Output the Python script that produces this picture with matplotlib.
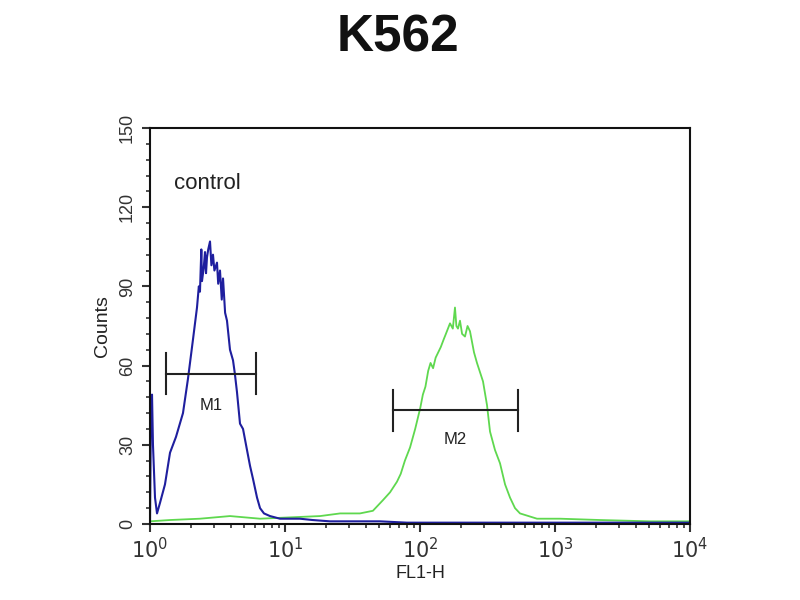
import math
import matplotlib
matplotlib.use("Agg")
import matplotlib.pyplot as plt
from matplotlib.ticker import LogLocator, MultipleLocator, NullFormatter

plt.rcParams['font.family'] = ['Liberation Sans', 'DejaVu Sans']

title = "K562"
xlabel = "FL1-H"
ylabel = "Counts"
label_text = "control"

# Control histogram (blue)
blue_x = [1.0, 1.017, 1.035, 1.052, 1.089, 1.127, 1.186, 1.291, 1.407, 1.558, 1.755,
          1.911, 2.083, 2.229, 2.30, 2.345, 2.40, 2.427, 2.50, 2.555, 2.60, 2.643, 2.70,
          2.783, 2.85, 2.928, 3.0, 3.135, 3.20, 3.300, 3.40, 3.475, 3.60, 3.718, 3.913,
          4.120, 4.25, 4.408, 4.642, 4.887, 5.231, 5.508, 5.798, 6.205, 6.532, 6.988,
          7.743, 9.18, 12.9, 16.0, 21.5, 30.0, 50.6, 80.0, 167, 400, 918, 3000, 10000]
blue_y = [0, 45, 49, 30, 10, 4, 8, 15, 27, 33, 42,
          55, 70, 82, 90, 88, 104, 92, 97, 103, 95, 101, 104,
          107, 98, 102, 96, 99, 91, 96, 85, 93, 80, 77, 66,
          62, 57, 50, 38, 36, 28, 22, 17, 10, 6, 4,
          3, 2, 2, 1.5, 1, 1, 1, 0.5, 0.5, 0.5, 0.5, 0.5, 0.5]

# Stained histogram (green)
green_x = [1.0, 1.407, 2.345, 3.913, 6.532, 10.9, 18.2, 25.6, 35.9, 44.8, 53.1, 60.0,
           67.5, 72.0, 77.3, 84.4, 92.1, 100.5, 105.0, 109.7, 115.0, 119.7, 125.0, 130.6,
           142.5, 150.0, 155.5, 166.8, 175.0, 181.6, 186.0, 191.1, 197.8, 205.0, 215.4,
           225.0, 234.6, 251.2, 264.3, 292.9, 313.6, 330.1, 359.4, 391.4, 426.6, 464.2,
           505.6, 550.6, 735.6, 1089, 2154, 5058, 10000]
green_y = [1, 1.5, 2, 3, 2, 2.5, 3, 4, 4, 5, 9, 12,
           16, 19, 24, 29, 36, 44, 49, 52, 58, 61, 59, 63,
           67, 70, 72, 76, 74, 82, 75, 74, 77, 72, 71,
           75, 73, 65, 61, 54, 45, 35, 28, 23, 15, 10,
           6, 4, 2, 2, 1.5, 1, 1]

# Markers M1, M2
m_names = ["M1", "M2"]
m_start = [1.32, 63.0]
m_end = [6.1, 535.0]
m_level = [57, 43]
m_label_level = [45, 32]

yticks = [0, 30, 60, 90, 120, 150]

fig = plt.figure(figsize=(8, 6), dpi=100)
ax = fig.add_axes([0.1875, 0.1267, 0.675, 0.66])

ax.plot(green_x, green_y, color="#5fd84f", lw=1.3)
ax.plot(blue_x, blue_y, color="#1f1f9e", lw=1.5)

for name, s, e, lv, ll in zip(m_names, m_start, m_end, m_level, m_label_level):
    ax.plot([s, e], [lv, lv], color="#222222", lw=1.5)
    for xx in (s, e):
        ax.plot([xx, xx], [lv - 7.6, lv + 7.6], color="#222222", lw=1.5)
    mid = 10 ** ((math.log10(s) + math.log10(e)) / 2)
    ax.text(mid, ll, name, ha="center", va="center", fontsize=12, color="#222222")

ax.text(1.5, 129, label_text, fontsize=16, color="#222222", ha="left", va="center")

ax.set_xscale("log")
ax.set_xlim(1, 10000)
ax.set_ylim(0, 150)
ax.set_yticks(yticks)
ax.set_yticklabels([str(v) for v in yticks], rotation=90, va="center", fontsize=13, color="#333333")
ax.yaxis.set_minor_locator(MultipleLocator(6))
ax.xaxis.set_minor_locator(LogLocator(base=10, subs=range(2, 10), numticks=50))
ax.xaxis.set_minor_formatter(NullFormatter())
ax.set_xticks([1, 10, 100, 1000, 10000])
ax.set_xticklabels([r"$10^0$", r"$10^1$", r"$10^2$", r"$10^3$", r"$10^4$"], fontsize=15, color="#333333")
ax.tick_params(axis="both", which="major", direction="out", length=6, width=1.5, color="#333333")
ax.tick_params(axis="both", which="minor", direction="out", length=3, width=1.2, color="#333333")
ax.tick_params(axis="y", pad=4)

for sp in ax.spines.values():
    sp.set_linewidth(1.5)
    sp.set_color("#111111")

ax.set_xlabel(xlabel, fontsize=13, color="#222222", labelpad=2)
ax.set_ylabel(ylabel, fontsize=14, color="#222222", labelpad=6)

fig.text(0.497, 0.937, title, fontsize=37, fontweight="bold", ha="center", va="center", color="#111111")

fig.savefig("out.png", dpi=100)
